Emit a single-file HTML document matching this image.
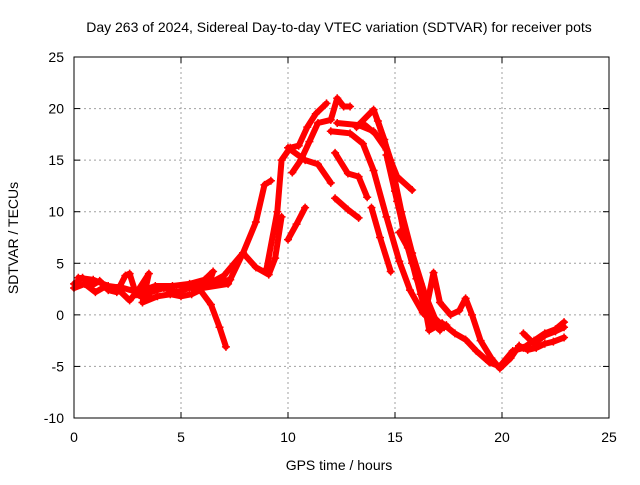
<!DOCTYPE html>
<html><head><meta charset="utf-8"><style>
body{margin:0;background:#fff}
svg text{font-family:"Liberation Sans",sans-serif;font-size:14px;fill:#000}
</style></head><body>
<svg id="c" width="640" height="480" xmlns="http://www.w3.org/2000/svg">
<text x="339" y="32" text-anchor="middle">Day 263 of 2024, Sidereal Day-to-day VTEC variation (SDTVAR) for receiver pots</text>
<text x="339" y="470" text-anchor="middle">GPS time / hours</text>
<text transform="translate(18,238) rotate(-90)" text-anchor="middle">SDTVAR / TECUs</text>
<g id="grid"></g><g id="series"></g><g id="axes"></g>
</svg>
<script>
const xTicks=[0,5,10,15,20,25];
const yTicks=[-10,-5,0,5,10,15,20,25];
const traceA=[[0,3],[0.4,3.6],[0.8,2.8],[1.2,3.3],[1.6,2.4],[2.0,2.2],[2.4,3.8],[2.6,4.0],[2.9,2.0],[3.3,1.6],[3.6,2.2],[4.2,2.6],[4.8,2.2],[5.4,2.6],[6,2.8],[6.6,3.2],[7.3,3.4]];
const traceB=[[0,2.6],[0.5,3.0],[1,2.2],[1.5,2.8],[2,2.6],[2.6,1.4],[3.0,2.4],[3.5,4.0],[3.2,1.2],[3.9,1.8],[4.5,2.0],[5,1.8],[5.5,2.0],[5.9,2.4],[6.4,1.0],[6.8,-1.2],[7.1,-3.1]];
const traceC=[[0.2,3.6],[0.9,3.4],[1.6,2.8],[2.3,2.6],[3,2.2],[3.8,2.8],[4.6,2.8],[5.4,3.0],[6.1,3.4],[6.5,4.2],[6.3,3.0],[7.0,3.8],[7.9,6.0],[8.5,9.0],[8.9,12.6],[9.2,13.0]];
const traceD=[[6.0,2.6],[7.2,3.0],[7.9,6.0],[8.5,4.6],[9.1,3.9],[9.4,5.5],[9.7,9.5]];
const traceE=[[9.0,4.5],[9.5,10.0],[9.7,15.0],[10.1,16.2],[10.5,16.4],[10.9,18.2],[11.3,19.5],[11.8,20.5]];
const traceF=[[10.0,7.3],[10.4,8.8],[10.8,10.4]];
const traceG=[[10.2,13.8],[10.6,15.0],[11.0,16.8],[11.4,18.6],[12.0,18.9],[12.3,21.0],[12.6,20.2],[12.9,20.2]];
const traceH=[[10.0,16.2],[10.8,15.0],[11.4,14.6],[12.0,12.8]];
const traceI=[[12.2,15.7],[12.8,13.7],[13.3,13.4],[13.7,11.4]];
const traceJ=[[12.2,11.3],[12.8,10.2],[13.3,9.4]];
const traceK=[[13.9,10.4],[14.3,7.5],[14.8,4.2]];
const traceL=[[12.0,17.8],[12.9,17.6],[13.5,16.6],[14.0,14.0],[14.6,9.5],[15.2,5.2],[15.7,2.4],[16.3,0.2],[17.1,-1.5]];
const traceM=[[12.3,18.6],[13.3,18.4],[14.0,17.8],[14.6,16.0],[15.0,12.0],[15.6,7.0],[16.2,2.0],[16.6,-0.8],[17.4,-1.0]];
const traceN=[[13.2,18.2],[14.0,19.9],[14.5,17.0],[15.0,13.0],[15.4,8.0],[15.8,5.0],[16.2,3.0],[16.6,-1.5]];
const traceO=[[13.6,18.4],[14.4,17.0],[15.1,13.4],[15.8,12.1]];
const traceP=[[15.2,8.0],[15.6,6.5],[16.0,4.0],[16.5,1.0],[16.8,4.1],[17.1,1.2],[17.6,0.0],[18.0,0.4],[18.3,1.6],[18.6,0.0],[19.0,-2.5],[19.5,-4.2],[19.9,-5.2],[20.4,-4.2],[20.8,-3.0]];
const traceQ=[[16.6,-1.5],[17.2,-0.8],[17.8,-1.8],[18.3,-2.4],[18.8,-3.5],[19.4,-4.6],[19.9,-5.0],[20.5,-3.5],[21.0,-3.2],[21.5,-2.5],[22.0,-1.8],[22.5,-1.4],[22.9,-0.7]];
const traceR=[[20.8,-3.0],[21.2,-3.4],[21.6,-3.2],[22.0,-2.8],[22.4,-2.6],[22.9,-2.2]];
const traceS=[[21.0,-1.8],[21.5,-2.8],[22.0,-2.0],[22.5,-1.6],[22.9,-1.2]];
const traceT=[[14.2,18.8],[14.8,15.0],[15.3,10.0],[15.8,6.0],[16.4,2.0],[17.0,-1.0]];
const traceU=[[14.6,15.5],[15.1,11.0],[15.5,7.5],[16.0,3.5],[16.7,0.0],[17.3,-1.2]];
const traces=[traceA,traceB,traceC,traceD,traceE,traceF,traceG,traceH,traceI,traceJ,traceK,traceL,traceM,traceN,traceO,traceP,traceQ,traceR,traceS,traceT,traceU];

const L=74,R=609,T=57,B=418,xmin=0,xmax=25,ymin=-10,ymax=25;
const X=h=>L+(h-xmin)/(xmax-xmin)*(R-L);
const Y=v=>B-(v-ymin)/(ymax-ymin)*(B-T);
const NS="http://www.w3.org/2000/svg";
function mk(tag,attrs,parent){const e=document.createElementNS(NS,tag);for(const k in attrs)e.setAttribute(k,attrs[k]);parent.appendChild(e);return e;}
const grid=document.getElementById('grid'),axes=document.getElementById('axes'),ser=document.getElementById('series');
xTicks.forEach(t=>{
  if(t>xmin&&t<xmax){const g=mk('line',{x1:X(t),x2:X(t),y1:T,y2:B,stroke:'#a0a0a0','stroke-dasharray':'2,3'},grid);
  
  }
  const tk=mk('line',{x1:X(t),x2:X(t),y1:B,y2:B-6,stroke:'#000'},axes);
  
  
  const tk2=mk('line',{x1:X(t),x2:X(t),y1:T,y2:T+6,stroke:'#000'},axes);
  
  
  const tx=mk('text',{x:X(t),y:B+24,'text-anchor':'middle'},axes);tx.textContent=t;
  
  
});
yTicks.forEach(t=>{
  if(t>ymin&&t<ymax){const g=mk('line',{x1:L,x2:R,y1:Y(t),y2:Y(t),stroke:'#a0a0a0','stroke-dasharray':'2,3'},grid);
  
  }
  const tk=mk('line',{x1:L,x2:L+6,y1:Y(t),y2:Y(t),stroke:'#000'},axes);
  
  
  const tk2=mk('line',{x1:R,x2:R-6,y1:Y(t),y2:Y(t),stroke:'#000'},axes);
  
  
  const tx=mk('text',{x:L-10,y:Y(t)+5,'text-anchor':'end'},axes);tx.textContent=t;
  
  
});
const frame=mk('rect',{x:L,y:T,width:R-L,height:B-T,fill:'none',stroke:'#000'},axes);


traces.forEach((tr,i)=>{
  const pl=mk('polyline',{points:tr.map(p=>X(p[0])+','+Y(p[1])).join(' '),fill:'none',stroke:'#ff0000','stroke-width':6,'stroke-linejoin':'round','stroke-linecap':'round'},ser);
  
  
  tr.forEach(p=>{
    const m=mk('path',{d:`M${X(p[0])-4},${Y(p[1])}h8M${X(p[0])},${Y(p[1])-4}v8`,stroke:'#ff0000','stroke-width':1.5},ser);
    
    
  });
});
</script>
</body></html>
